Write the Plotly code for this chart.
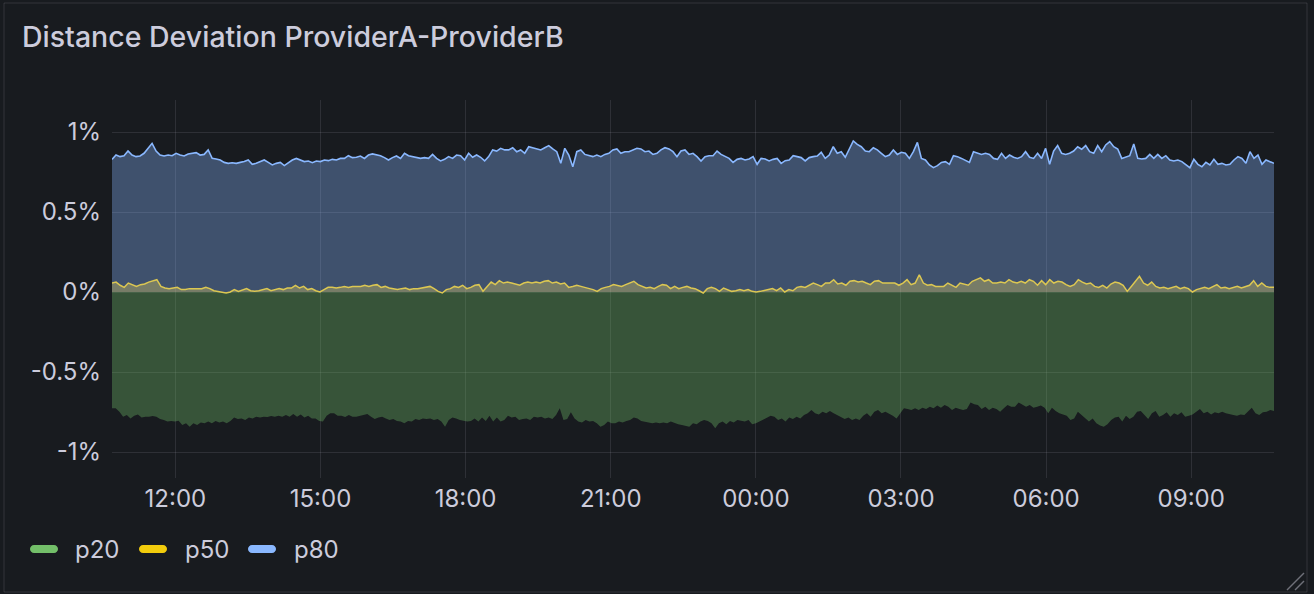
import pandas as pd
import plotly.graph_objects as go

# Percent values (1 = 1%)
p80 = [
    0.829, 0.856, 0.846, 0.852, 0.881, 0.856, 0.846, 0.850, 0.867, 0.898,
    0.929, 0.881, 0.856, 0.850, 0.856, 0.852, 0.867, 0.856, 0.850, 0.863,
    0.867, 0.871, 0.856, 0.860, 0.888, 0.835, 0.831, 0.825, 0.810, 0.804,
    0.808, 0.804, 0.810, 0.815, 0.825, 0.798, 0.804, 0.815, 0.825, 0.810,
    0.794, 0.804, 0.810, 0.790, 0.808, 0.825, 0.835, 0.825, 0.815, 0.819,
    0.808, 0.819, 0.815, 0.825, 0.821, 0.829, 0.825, 0.835, 0.835, 0.852,
    0.840, 0.842, 0.850, 0.835, 0.856, 0.863, 0.856, 0.852, 0.840, 0.825,
    0.840, 0.850, 0.835, 0.867, 0.852, 0.846, 0.842, 0.835, 0.840, 0.835,
    0.860, 0.835, 0.819, 0.829, 0.846, 0.835, 0.856, 0.852, 0.825, 0.867,
    0.842, 0.856, 0.842, 0.819, 0.846, 0.888, 0.881, 0.898,
    0.888, 0.888, 0.902, 0.877, 0.888, 0.867, 0.908, 0.902, 0.898, 0.888,
    0.902, 0.915, 0.894, 0.877, 0.804, 0.898, 0.856, 0.783, 0.877, 0.888,
    0.860, 0.852, 0.846, 0.856, 0.846, 0.860, 0.867, 0.888, 0.894, 0.867,
    0.877, 0.877, 0.888, 0.898, 0.894, 0.877, 0.881, 0.860, 0.867, 0.888,
    0.902, 0.894, 0.877, 0.846, 0.881, 0.888, 0.860, 0.867, 0.846, 0.819,
    0.846, 0.852, 0.852, 0.881, 0.860, 0.846, 0.835, 0.810, 0.829, 0.835,
    0.825, 0.831, 0.846, 0.798, 0.835, 0.831, 0.819, 0.829, 0.835, 0.804,
    0.821, 0.825, 0.852, 0.846, 0.840, 0.819, 0.840, 0.846, 0.850, 0.873,
    0.835, 0.856, 0.908, 0.867, 0.877, 0.842, 0.898, 0.944, 0.923, 0.908,
    0.881, 0.877, 0.902, 0.888, 0.867, 0.846,
    0.856, 0.888, 0.860, 0.873, 0.867, 0.835, 0.877, 0.935, 0.835, 0.825,
    0.794, 0.777, 0.790, 0.810, 0.815, 0.798, 0.852, 0.846, 0.835, 0.825,
    0.810, 0.877, 0.867, 0.860, 0.867, 0.860, 0.835, 0.829, 0.867, 0.835,
    0.856, 0.842, 0.835, 0.846, 0.877, 0.842, 0.835, 0.867, 0.835, 0.898,
    0.798, 0.881, 0.915, 0.867, 0.860, 0.867, 0.881, 0.908, 0.892, 0.915,
    0.877, 0.867, 0.915, 0.877, 0.919, 0.940, 0.908, 0.894, 0.835, 0.846,
    0.852, 0.925, 0.835, 0.831, 0.835, 0.860, 0.835, 0.860, 0.835, 0.852,
    0.825, 0.819, 0.825, 0.815, 0.798, 0.777, 0.829, 0.798, 0.783, 0.810,
    0.794, 0.829, 0.798, 0.804, 0.794, 0.798, 0.825, 0.846, 0.835, 0.804,
    0.877, 0.835, 0.856, 0.798, 0.825, 0.815, 0.804,
]

p50 = [
    0.056, 0.062, 0.042, 0.029, 0.056, 0.046, 0.035, 0.046, 0.050, 0.062,
    0.071, 0.077, 0.035, 0.025, 0.021, 0.025, 0.029, 0.015, 0.015, 0.021,
    0.021, 0.025, 0.021, 0.029, 0.021, 0.008, 0.004, 0.000, -0.006, 0.000,
    0.015, 0.004, 0.015, 0.021, 0.008, 0.004, 0.008, 0.015, 0.021, 0.008,
    0.015, 0.021, 0.015, 0.025, 0.025, 0.042, 0.025, 0.035, 0.015, 0.021,
    0.008, 0.000, 0.015, 0.029, 0.029, 0.025, 0.029, 0.035, 0.029, 0.035,
    0.035, 0.035, 0.042, 0.035, 0.042, 0.046, 0.029, 0.035, 0.025, 0.021,
    0.015, 0.021, 0.025, 0.015, 0.021, 0.021, 0.025, 0.029, 0.035, 0.021,
    0.004, -0.006, 0.015, 0.021, 0.035, 0.029, 0.042, 0.021, 0.029, 0.042,
    0.046, 0.004, 0.035, 0.062, 0.046, 0.071, 0.056, 0.062, 0.056, 0.050,
    0.042, 0.056, 0.062, 0.056, 0.062, 0.056, 0.067, 0.071, 0.056, 0.062,
    0.050, 0.056, 0.029, 0.035, 0.042, 0.035, 0.029, 0.021, 0.015, 0.004,
    0.021, 0.029, 0.035, 0.046, 0.042, 0.035, 0.046, 0.056, 0.067, 0.046,
    0.035, 0.025, 0.029, 0.021, 0.035, 0.046, 0.042, 0.021, 0.035, 0.021,
    0.029, 0.035, 0.025,
    0.021, 0.008, -0.006, 0.021, 0.029, 0.021, 0.004, 0.025, 0.015, 0.004,
    0.008, 0.015, 0.008, 0.015, 0.004, 0.000, 0.004, 0.008, 0.015, 0.021,
    0.008, 0.025, 0.000, 0.015, 0.008, 0.029, 0.035, 0.029, 0.042, 0.056,
    0.046, 0.035, 0.056, 0.056, 0.077, 0.050, 0.056, 0.042, 0.067, 0.071,
    0.062, 0.067, 0.056, 0.046, 0.067, 0.071, 0.056, 0.056, 0.056, 0.056,
    0.042, 0.056, 0.077, 0.046, 0.056, 0.108, 0.056, 0.042, 0.046, 0.035,
    0.035, 0.035, 0.056, 0.042, 0.029, 0.056, 0.050, 0.042, 0.067, 0.077,
    0.088, 0.067, 0.077, 0.056, 0.056, 0.062, 0.056, 0.077, 0.062, 0.056,
    0.067, 0.056, 0.077, 0.067, 0.042, 0.071, 0.046, 0.077, 0.056, 0.067,
    0.062, 0.046, 0.035, 0.046, 0.077, 0.062, 0.050, 0.056, 0.035, 0.029,
    0.042, 0.025, 0.050, 0.062, 0.056, 0.042, 0.004, 0.035, 0.067, 0.098,
    0.056, 0.042, 0.062, 0.035, 0.025, 0.029, 0.021, 0.029, 0.035, 0.021,
    0.029, 0.021, 0.000, 0.015, 0.021, 0.029, 0.021, 0.035, 0.046, 0.025,
    0.029, 0.021, 0.029, 0.035, 0.025, 0.035, 0.042, 0.071, 0.035, 0.056,
    0.035, 0.029, 0.029,
]

p20 = [
    -0.727, -0.727, -0.748, -0.779, -0.769, -0.790, -0.773, -0.765, -0.785, -0.779,
    -0.779, -0.775, -0.779, -0.794, -0.800, -0.810, -0.806, -0.810, -0.804, -0.831,
    -0.821, -0.842, -0.821, -0.831, -0.815, -0.821, -0.810, -0.821, -0.806, -0.815,
    -0.810, -0.821, -0.806, -0.785, -0.794, -0.790, -0.800, -0.785, -0.790, -0.779,
    -0.785, -0.779, -0.781, -0.775, -0.779, -0.773, -0.779, -0.769, -0.779, -0.763,
    -0.779, -0.765, -0.785, -0.773, -0.790, -0.790, -0.806, -0.810, -0.773, -0.758,
    -0.758, -0.773, -0.773, -0.781, -0.769, -0.779, -0.779, -0.773, -0.765, -0.763,
    -0.779, -0.794, -0.785, -0.779, -0.790, -0.800, -0.794, -0.806, -0.810, -0.821,
    -0.806, -0.810, -0.794, -0.800, -0.790, -0.794, -0.790, -0.800, -0.794, -0.810,
    -0.842, -0.800, -0.785, -0.790, -0.800, -0.806, -0.810, -0.806, -0.790, -0.810,
    -0.785, -0.806, -0.773, -0.810, -0.785, -0.810, -0.800, -0.773, -0.785, -0.779,
    -0.800, -0.794, -0.790, -0.800, -0.779, -0.785, -0.779, -0.790, -0.785, -0.794,
    -0.769, -0.727, -0.800, -0.794, -0.752, -0.790, -0.810, -0.815, -0.800, -0.810,
    -0.806, -0.821, -0.842, -0.831, -0.810, -0.821, -0.821, -0.810, -0.815, -0.806,
    -0.800, -0.785, -0.790, -0.806, -0.810, -0.815, -0.821, -0.815, -0.821, -0.815,
    -0.821, -0.810, -0.821, -0.827, -0.831, -0.835, -0.842, -0.821, -0.827, -0.810,
    -0.800, -0.806, -0.821, -0.852, -0.821, -0.810, -0.827, -0.806, -0.815, -0.800,
    -0.806, -0.810, -0.800, -0.827, -0.821, -0.810, -0.794, -0.785, -0.773, -0.779,
    -0.800, -0.790, -0.810, -0.785, -0.794, -0.779, -0.790, -0.769, -0.758, -0.738,
    -0.758, -0.765, -0.748, -0.758, -0.744, -0.758, -0.769, -0.785, -0.794, -0.785,
    -0.800, -0.790, -0.800, -0.773, -0.758, -0.779, -0.748, -0.738, -0.758, -0.748,
    -0.758, -0.773, -0.790, -0.758, -0.727, -0.731, -0.738, -0.727, -0.738, -0.723,
    -0.731, -0.717, -0.727, -0.710, -0.723, -0.706, -0.717, -0.738, -0.723, -0.731,
    -0.738, -0.731, -0.690, -0.702, -0.706, -0.731, -0.717, -0.738, -0.723, -0.731,
    -0.748, -0.727, -0.706, -0.717, -0.717, -0.690, -0.706, -0.717, -0.706, -0.723,
    -0.717, -0.710, -0.723, -0.758, -0.723, -0.744, -0.758, -0.765, -0.773, -0.800,
    -0.790, -0.748, -0.769, -0.785, -0.810, -0.790, -0.821, -0.835, -0.842, -0.827,
    -0.800, -0.785, -0.779, -0.810, -0.773, -0.794, -0.779, -0.748, -0.744, -0.769,
    -0.794, -0.758, -0.744, -0.779, -0.769, -0.752, -0.779, -0.758, -0.769, -0.752,
    -0.779, -0.773, -0.765, -0.748, -0.731, -0.758, -0.748, -0.765, -0.752, -0.758,
    -0.748, -0.758, -0.765, -0.769, -0.773, -0.765, -0.769, -0.744, -0.723, -0.758,
    -0.769, -0.752, -0.748, -0.738, -0.744,
]

t_start = pd.Timestamp('2024-05-14 10:41:24')
t_end = pd.Timestamp('2024-05-15 10:42:40')

series_names = ['p20', 'p50', 'p80']
y_ticks = [-1, -0.5, 0, 0.5, 1]
y_labels = ['-1%', '-0.5%', '0%', '0.5%', '1%']

BG = '#181b1f'
TEXT = '#ccccdc'
GRID = 'rgba(204,204,220,0.12)'
GREEN = '#73bf69'
YELLOW = '#f2cc0c'
BLUE = '#8ab8ff'

# plot area in pixels
L, R, T, B = 112, 1274, 100, 478
W, H = R - L, B - T


def px_x(px):
    return (px - L) / W


def px_y(py):
    return (B - py) / H


def times(vals):
    return pd.date_range(t_start, t_end, periods=len(vals))


fig = go.Figure()

# p80: blue fill from zero
fig.add_trace(go.Scatter(
    x=times(p80), y=p80, mode='lines', name='p80',
    line=dict(color=BLUE, width=1.6),
    fill='tozeroy', fillcolor='rgba(138,184,255,0.35)',
))
# p20: green fill down to the series, no visible line
fig.add_trace(go.Scatter(
    x=times(p20), y=p20, mode='lines', name='p20',
    line=dict(color=GREEN, width=0),
    fill='tozeroy', fillcolor='rgba(115,191,105,0.35)',
))
# p50: yellow fill over the blue
fig.add_trace(go.Scatter(
    x=times(p50), y=p50, mode='lines', name='p50',
    line=dict(color='#dcc752', width=1.5),
    fill='tozeroy', fillcolor='rgba(240,216,90,0.32)',
))

fig.update_layout(
    width=1314, height=594,
    margin=dict(l=L, r=1314 - R, t=T, b=594 - B),
    paper_bgcolor=BG, plot_bgcolor=BG,
    showlegend=False,
    font=dict(family='Inter', color=TEXT, size=24),
)

fig.update_xaxes(
    type='date', range=[t_start, t_end],
    tick0='2024-05-14 00:00', dtick=3 * 3600 * 1000, tickformat='%H:%M',
    showgrid=True, gridcolor=GRID, gridwidth=1,
    zeroline=False, showline=False, ticks='',
    tickfont=dict(size=24, color=TEXT), ticklabelstandoff=4,
)
fig.update_yaxes(
    range=[-1.1625, 1.2], tickvals=y_ticks, ticktext=y_labels,
    showgrid=True, gridcolor=GRID, gridwidth=1,
    zeroline=False, showline=False, ticks='',
    tickfont=dict(size=24, color=TEXT), ticklabelstandoff=10,
)

# panel title
fig.add_annotation(
    text='Distance Deviation ProviderA-ProviderB',
    xref='paper', yref='paper', x=px_x(20), y=px_y(37),
    xanchor='left', yanchor='middle', showarrow=False,
    font=dict(family='Inter', size=28.5, color=TEXT, weight=500),
)

# legend pills and labels
legend_colors = [GREEN, YELLOW, BLUE]
legend_pill_x = [44, 153, 262]
legend_text_x = [73, 183, 292]
pill = ('M -10,-4 L 10,-4 C 12.2,-4 14,-2.2 14,0 C 14,2.2 12.2,4 10,4 '
        'L -10,4 C -12.2,4 -14,2.2 -14,0 C -14,-2.2 -12.2,-4 -10,-4 Z')
for name, col, cx, tx in zip(series_names, legend_colors, legend_pill_x, legend_text_x):
    fig.add_shape(
        type='path', path=pill, xsizemode='pixel', ysizemode='pixel',
        xref='paper', yref='paper', xanchor=px_x(cx), yanchor=px_y(549),
        fillcolor=col, line=dict(width=0),
    )
    fig.add_annotation(
        text=name, xref='paper', yref='paper', x=px_x(tx), y=px_y(549),
        xanchor='left', yanchor='middle', showarrow=False,
        font=dict(family='Inter', size=24, color=TEXT),
    )

# panel border and resize handle
fig.add_shape(
    type='rect', xref='paper', yref='paper',
    x0=px_x(4), x1=px_x(1307), y0=px_y(592), y1=px_y(3),
    line=dict(color='rgba(204,204,220,0.15)', width=1), layer='below',
)
for x0, y0, x1, y1 in [(1287, 590, 1304, 573), (1295, 590, 1304, 581)]:
    fig.add_shape(
        type='line', xref='paper', yref='paper',
        x0=px_x(x0), y0=px_y(y0), x1=px_x(x1), y1=px_y(y1),
        line=dict(color='#6e7079', width=1.5),
    )

# page body has an 8px default margin; drop it so the panel sits at 0,0
fig.write_html('out.html', config={'displayModeBar': False},
               post_script="document.body.style.margin='0';")
